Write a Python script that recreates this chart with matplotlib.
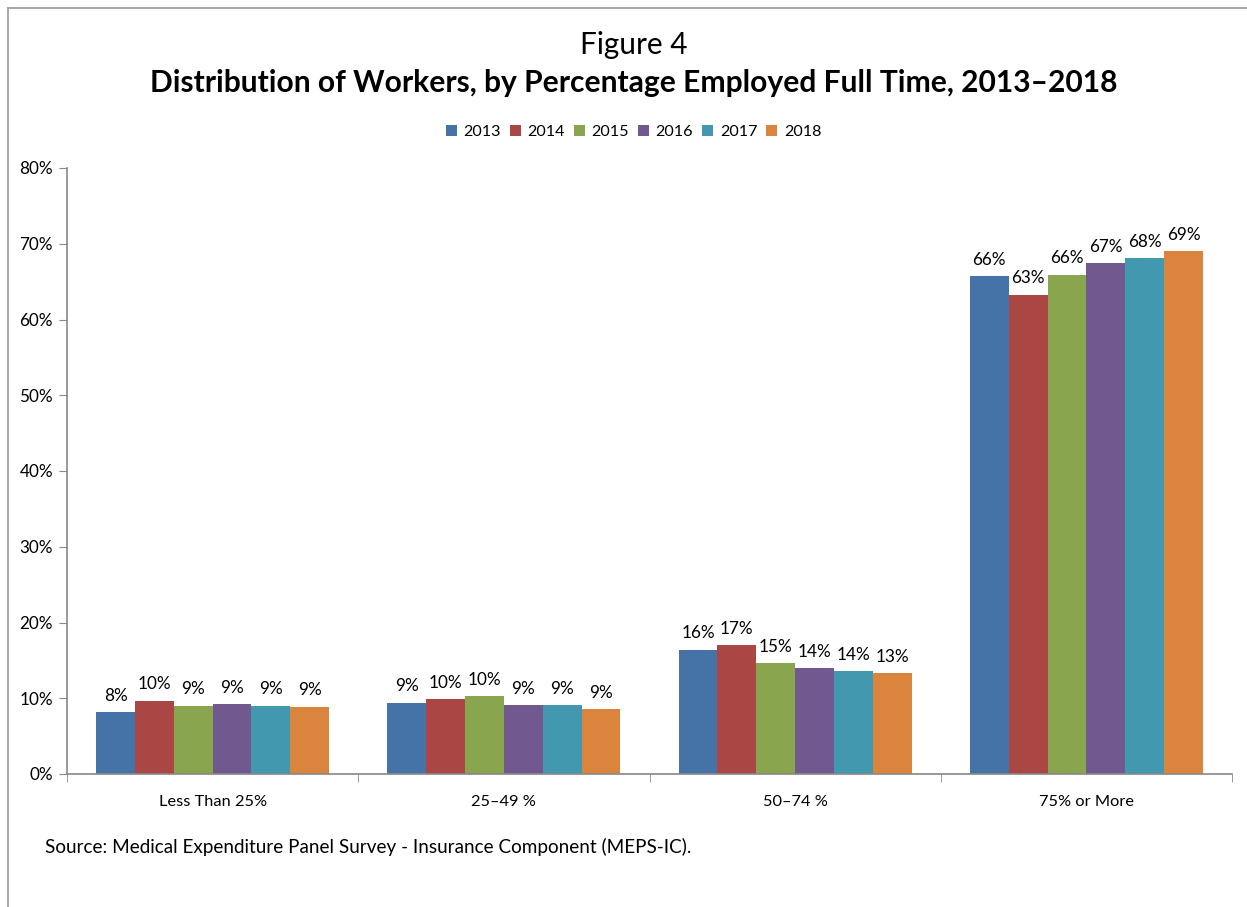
import matplotlib
matplotlib.use("Agg")
import matplotlib.pyplot as plt
from matplotlib.lines import Line2D
import numpy as np

plt.rcParams['font.family'] = ['Lato', 'DejaVu Sans']

categories = ["Less Than 25%", "25\u201349 %", "50\u201374 %", "75% or More"]
years = ["2013", "2014", "2015", "2016", "2017", "2018"]
values = {
    "2013": [8.2, 9.4, 16.4, 65.7],
    "2014": [9.7, 9.9, 17.0, 63.3],
    "2015": [9.0, 10.3, 14.6, 65.9],
    "2016": [9.2, 9.1, 14.0, 67.4],
    "2017": [9.0, 9.1, 13.6, 68.1],
    "2018": [8.9, 8.6, 13.3, 69.0],
}
colors = ["#4572A7", "#AA4643", "#89A54E", "#71588F", "#4198AF", "#DB843D"]
yticks = [0, 10, 20, 30, 40, 50, 60, 70, 80]

fig = plt.figure(figsize=(12.47, 9.07), dpi=100)
ax = fig.add_axes([67/1247, 1-774/907, (1232-67)/1247, (774-168)/907])

n = len(years)
w = 0.8 / n
x = np.arange(len(categories))
for j, (yr, c) in enumerate(zip(years, colors)):
    vals = values[yr]
    pos = x + (j - (n - 1) / 2) * w
    ax.bar(pos, vals, width=w, color=c, label=yr, edgecolor='none')
    for p, v in zip(pos, vals):
        ax.annotate(f"{v:.0f}%", (p, v), xytext=(0, 6), textcoords='offset points',
                    ha='center', va='bottom', fontsize=12.3, color='black')

ax.set_xlim(-0.5, len(categories) - 0.5)
ax.set_ylim(0, 80)
ax.set_yticks(yticks)
ax.set_yticklabels([f"{t}%" for t in yticks], fontsize=12.3)
ax.set_xticks(x)
ax.set_xticklabels(categories, fontsize=11.8)
ax.tick_params(axis='x', length=0, pad=15)
ax.set_xticks(np.arange(-0.5, len(categories)), minor=True)
ax.tick_params(axis='x', which='minor', length=6, color='#888888', direction='out')
ax.tick_params(axis='y', length=6, color='#888888', direction='out', pad=4)
for s in ['top', 'right']:
    ax.spines[s].set_visible(False)
for s in ['left', 'bottom']:
    ax.spines[s].set_color('#888888')
    ax.spines[s].set_linewidth(1.2)

fig.text(0.508, 1-45/907, "Figure 4", ha='center', va='center', fontsize=21.4)
fig.text(0.508, 1-83/907, "Distribution of Workers, by Percentage Employed Full Time, 2013\u20132018",
         ha='center', va='center', fontsize=21.6, fontweight='bold')

fig.legend(loc='center', bbox_to_anchor=(0.508, 1-132/907), ncol=6, frameon=False,
           fontsize=11.6, handlelength=0.7, handleheight=0.7, handletextpad=0.4,
           columnspacing=0.55)

fig.text(45/1247, 1-847/907, "Source: Medical Expenditure Panel Survey - Insurance Component (MEPS-IC).",
         ha='left', va='center', fontsize=13.6)

# frame lines
fig.add_artist(Line2D([8/1247, 8/1247], [0, 1-8/907], transform=fig.transFigure, color='#999999', lw=1.2))
fig.add_artist(Line2D([8/1247, 1], [1-8/907, 1-8/907], transform=fig.transFigure, color='#999999', lw=1.2))

fig.savefig("out.png", dpi=100)
